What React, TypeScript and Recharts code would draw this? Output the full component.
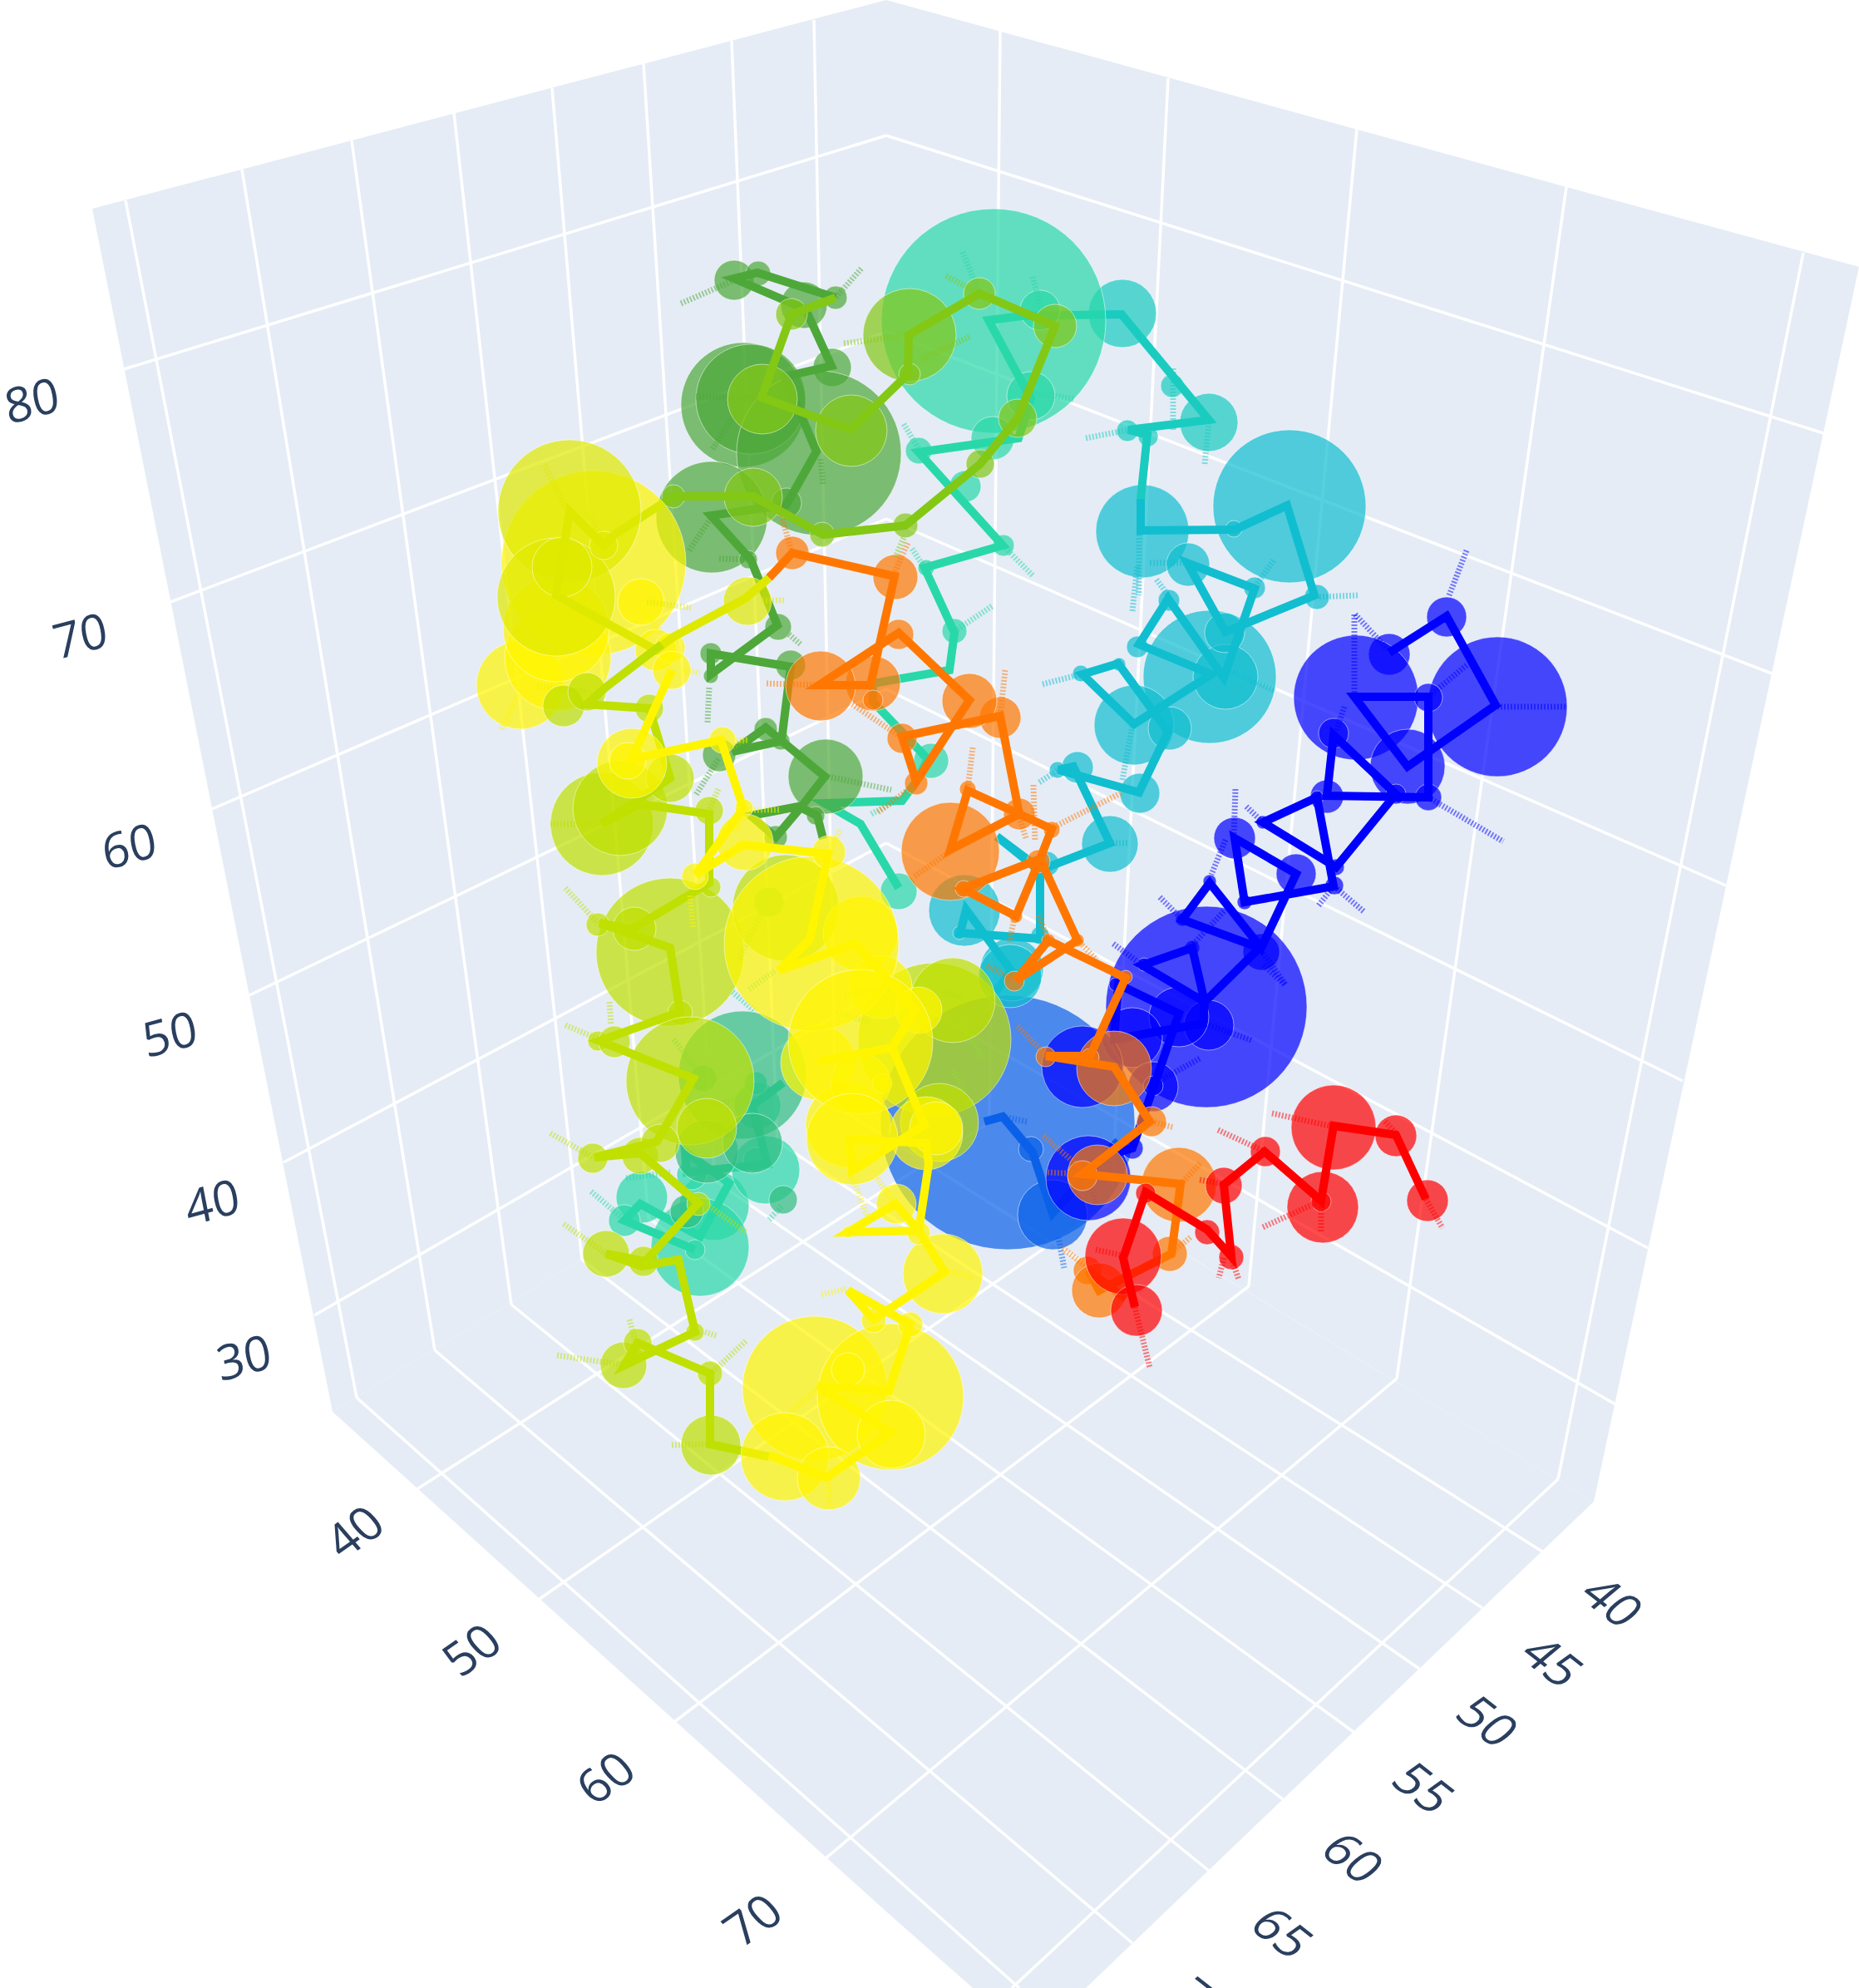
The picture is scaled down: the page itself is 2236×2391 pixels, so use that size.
import React from 'react'
import { ComposedChart, Area, Line, Scatter, XAxis, YAxis } from 'recharts'

const WIDTH = 2236
const HEIGHT = 2391

type Pt = [number, number]
type Bub = [number, number, number]
type Whisk = [number, number, number, number]

// panes: x, upper edge, lower edge
const leftWall: [number, number, number][] = [[111, 251, 251], [400, 175, 1698], [1066, 0, 1290]]
const rightWall: [number, number, number][] = [[1066, 0, 1290], [1917, 234, 1806], [2236, 321, 321]]
const floorPane: [number, number, number][] = [[400, 1698, 1698], [1066, 1290, 2299], [1170, 1353, 2391], [1306, 1436, 2391], [1917, 1806, 1806]]

const gridLines: Whisk[] = [
  // left wall verticals
  [151, 241, 429, 1681], [291, 204, 523, 1624], [423, 169, 615, 1569], [546, 136, 700, 1515],
  [664, 106, 780, 1465], [774, 76, 860, 1420], [880, 49, 935, 1373], [979, 24, 1005, 1330],
  // left wall horizontals
  [149, 444, 1066, 163], [205, 724, 1066, 399], [255, 973, 1066, 624], [300, 1197, 1066, 829], [341, 1398, 1066, 1014], [378, 1582, 1066, 1186],
  // right wall verticals
  [1203, 37, 1190, 1350], [1405, 94, 1337, 1445], [1632, 155, 1502, 1547], [1884, 225, 1680, 1658], [2169, 304, 1874, 1779],
  // right wall horizontals
  [1066, 163, 2193, 521], [1066, 399, 2131, 810], [1066, 624, 2076, 1065], [1066, 829, 2024, 1300], [1066, 1014, 1982, 1501], [1066, 1186, 1943, 1689],
  // floor
  [1005, 1330, 1855, 1866], [935, 1373, 1783, 1934], [860, 1420, 1707, 2007], [780, 1465, 1628, 2083],
  [700, 1515, 1543, 2164], [615, 1569, 1454, 2250], [523, 1624, 1362, 2337], [429, 1681, 1226, 2391],
  [500, 1792, 1190, 1350], [649, 1923, 1337, 1445], [811, 2071, 1502, 1547], [992, 2236, 1680, 1658], [1217, 2391, 1874, 1779],
]

const zTicks: [string, number, number][] = [['80', 38, 480], ['70', 96, 763], ['60', 155, 1016], ['50', 204, 1242], ['40', 255, 1444], ['30', 293, 1631]]
const leftTicks: [string, number, number][] = [['40', 425, 1841], ['50', 566, 1983], ['60', 727, 2137], ['70', 904, 2308]]
const rightTicks: [string, number, number][] = [['40', 1941, 1925], ['45', 1869, 1997], ['50', 1791, 2069], ['55', 1714, 2149], ['60', 1629, 2233], ['65', 1544, 2323], ['70', 1450, 2408]]

const redPath: Pt[] = [[1365, 1572], [1351, 1513], [1378, 1434], [1452, 1479], [1481, 1511], [1472, 1425], [1521, 1385], [1589, 1444], [1604, 1354], [1679, 1365], [1715, 1442]]
const redBubbles: Bub[] = [[1717, 1444, 25], [1679, 1366, 25], [1604, 1356, 51], [1591, 1452, 43], [1589, 1445, 12], [1522, 1385, 18], [1472, 1426, 22], [1481, 1512, 15], [1452, 1482, 15], [1378, 1435, 12], [1351, 1511, 46], [1367, 1576, 31]]
const redWhiskers: Whisk[] = [[1530, 1339, 1599, 1354], [1465, 1359, 1521, 1385], [1519, 1476, 1589, 1444], [1589, 1447, 1589, 1483], [1443, 1419, 1472, 1424], [1715, 1442, 1735, 1477], [1481, 1513, 1490, 1539], [1472, 1513, 1466, 1537], [1318, 1503, 1351, 1510], [1365, 1572, 1383, 1645], [1666, 1349, 1679, 1363]]

const orangePath: Pt[] = [[1354, 1562], [1309, 1528], [1322, 1552], [1409, 1508], [1420, 1424], [1302, 1412], [1383, 1349], [1340, 1283], [1258, 1270], [1311, 1270], [1354, 1176], [1261, 1131], [1222, 1179], [1296, 1131], [1251, 1033], [1222, 1102], [1158, 1069], [1251, 1033], [1265, 997], [1226, 979], [1164, 951], [1143, 1022], [1226, 979], [1203, 861], [1085, 886], [1102, 940], [1166, 842], [1081, 761], [985, 824], [1047, 824], [1076, 693], [953, 665], [925, 695]]
const orangeBubbles: Bub[] = [[1418, 1425, 45], [1407, 1508, 21], [1308, 1528, 17], [1322, 1552, 33], [1385, 1349, 18], [1340, 1285, 45], [1258, 1271, 12], [1311, 1272, 11], [1320, 1413, 36], [1302, 1414, 18], [1354, 1175, 8], [1220, 1180, 12], [1261, 1131, 8], [1296, 1131, 8], [1249, 1036, 14], [1222, 1102, 8], [1143, 1024, 59], [1159, 1069, 10], [1226, 979, 19], [1265, 998, 10], [1164, 949, 10], [1203, 863, 25], [1166, 843, 33], [1085, 888, 18], [1102, 942, 14], [1081, 763, 18], [1050, 822, 33], [1050, 842, 12], [1077, 694, 27], [987, 825, 42], [953, 665, 20]]
const orangeWhiskers: Whisk[] = [[1209, 806, 1203, 861], [1170, 899, 1164, 949], [1348, 954, 1267, 995], [1243, 944, 1245, 1011], [1234, 1008, 1226, 983], [1100, 1054, 1143, 1024], [1056, 977, 1100, 944], [1025, 847, 1083, 886], [1220, 1104, 1214, 1133], [1249, 1101, 1261, 1131], [1296, 1131, 1319, 1154], [1187, 1161, 1220, 1179], [922, 822, 985, 824], [936, 605, 951, 660], [1092, 653, 1074, 693], [1260, 1410, 1300, 1412], [1278, 1501, 1313, 1528], [1385, 1349, 1412, 1356], [1420, 1424, 1445, 1398], [1412, 1505, 1432, 1488], [1224, 1234, 1258, 1270], [1255, 1366, 1302, 1407]]

const bluePath: Pt[] = [[1671, 785], [1740, 741], [1799, 848], [1693, 922], [1629, 838], [1718, 838], [1718, 959], [1596, 957], [1604, 884], [1679, 955], [1607, 1043], [1519, 989], [1584, 959], [1604, 1066], [1497, 1085], [1485, 1008], [1559, 1051], [1517, 1140], [1455, 1062], [1422, 1106], [1515, 1140], [1449, 1205], [1434, 1140], [1374, 1161], [1449, 1205], [1447, 1231], [1340, 1250], [1345, 1184], [1418, 1219], [1380, 1329], [1362, 1381], [1345, 1386]]
const blueBubbles: Bub[] = [[1740, 742, 24], [1671, 787, 25], [1801, 850, 84], [1631, 839, 75], [1718, 839, 17], [1693, 922, 45], [1604, 882, 18], [1596, 958, 20], [1584, 959, 8], [1718, 959, 16], [1679, 955, 12], [1519, 989, 8], [1485, 1008, 25], [1607, 1043, 10], [1605, 1065, 11], [1497, 1085, 9], [1559, 1051, 24], [1455, 1060, 8], [1422, 1106, 8], [1517, 1145, 22], [1434, 1140, 9], [1374, 1161, 6], [1451, 1211, 121], [1454, 1233, 30], [1418, 1223, 36], [1362, 1248, 36], [1342, 1184, 8], [1376, 1160, 8], [1387, 1307, 30], [1387, 1306, 12], [1302, 1283, 49], [1362, 1381, 13], [1309, 1417, 51]]
const blueWhiskers: Whisk[] = [[1764, 662, 1743, 716], [1801, 850, 1884, 850], [1629, 739, 1629, 834], [1630, 739, 1669, 781], [1764, 800, 1723, 834], [1617, 850, 1607, 880], [1486, 949, 1484, 1006], [1499, 970, 1519, 989], [1718, 959, 1808, 1012], [1474, 1010, 1457, 1052], [1586, 1089, 1604, 1066], [1640, 1096, 1607, 1068], [1395, 1079, 1422, 1106], [1472, 1096, 1434, 1137], [1546, 1184, 1519, 1146], [1339, 1135, 1374, 1161], [1505, 1251, 1454, 1233], [1443, 1273, 1387, 1304], [1545, 1184, 1519, 1160], [1327, 1255, 1358, 1251], [1318, 1447, 1309, 1417]]

const azurePath: Pt[] = [[1184, 1349], [1206, 1343], [1242, 1386], [1266, 1459], [1345, 1372]]
const azureBubbles: Bub[] = [[1212, 1350, 153], [1240, 1382, 15], [1266, 1461, 42]]
const azureWhiskers: Whisk[] = [[1273, 1488, 1280, 1525], [1235, 1349, 1206, 1343]]

const cyanPath: Pt[] = [[1372, 600], [1372, 638], [1485, 637], [1548, 608], [1581, 716], [1474, 760], [1428, 677], [1509, 708], [1472, 815], [1405, 720], [1370, 775], [1457, 811], [1364, 871], [1302, 811], [1345, 798], [1405, 880], [1370, 953], [1273, 926], [1291, 922], [1335, 1014], [1250, 1047], [1199, 1006], [1251, 1045], [1251, 1129], [1155, 1122], [1162, 1094], [1216, 1167], [1195, 1197]]
const cyanBubbles: Bub[] = [[1551, 609, 92], [1374, 639, 56], [1484, 636, 10], [1429, 679, 26], [1509, 707, 13], [1584, 718, 15], [1406, 722, 13], [1368, 778, 13], [1455, 814, 80], [1474, 814, 39], [1473, 761, 24], [1364, 872, 48], [1407, 876, 26], [1300, 810, 10], [1346, 799, 8], [1371, 954, 24], [1296, 923, 19], [1272, 926, 10], [1335, 1015, 34], [1259, 1039, 15], [1160, 1095, 43], [1154, 1122, 8], [1251, 1125, 11], [1217, 1166, 38], [1215, 1174, 38]]
const cyanWhiskers: Whisk[] = [[1362, 735, 1368, 681], [1383, 677, 1424, 677], [1633, 716, 1586, 718], [1532, 674, 1509, 706], [1391, 697, 1405, 716], [1254, 823, 1300, 811], [1350, 938, 1362, 873], [1532, 830, 1474, 804], [1250, 941, 1273, 926], [1356, 1014, 1335, 1014], [1370, 643, 1370, 716]]

const aquaPath: Pt[] = [[1230, 380], [1349, 378], [1454, 505], [1357, 517], [1380, 523], [1372, 600]]
const aquaBubbles: Bub[] = [[1350, 377, 41], [1454, 508, 35], [1410, 464, 14], [1356, 518, 13], [1381, 525, 12]]
const aquaWhiskers: Whisk[] = [[1306, 527, 1357, 517], [1411, 517, 1411, 443], [1449, 558, 1454, 507]]

const tealPath: Pt[] = [[1230, 380], [1189, 385], [1240, 480], [1225, 527], [1105, 544], [1206, 656], [1112, 683], [1148, 761], [1142, 806], [1050, 822], [1050, 844], [1116, 913], [1102, 940], [1085, 963], [992, 966], [1035, 991], [1081, 1068]]
const tealLowerPath: Pt[] = [[942, 1302], [905, 1330], [923, 1400], [826, 1410], [824, 1385], [877, 1423], [842, 1487], [770, 1448], [751, 1468], [836, 1503]]
const tealBubbles: Bub[] = [[1195, 386, 135], [1251, 373, 24], [1240, 476, 29], [1194, 527, 26], [1105, 542, 16], [1161, 585, 19], [1207, 656, 13], [1114, 683, 10], [1148, 759, 15], [1120, 915, 21], [1081, 1072, 22], [859, 1450, 42], [842, 1500, 59], [772, 1440, 31], [751, 1468, 19], [836, 1503, 12], [921, 1407, 41], [909, 1395, 15], [832, 1413, 18], [846, 1297, 16], [911, 1330, 28], [909, 1303, 14], [925, 1085, 18]]
const tealWhiskers: Whisk[] = [[1158, 303, 1178, 353], [1242, 333, 1252, 370], [1291, 480, 1235, 470], [1087, 510, 1105, 540], [1242, 692, 1207, 657], [1097, 660, 1112, 683], [1193, 729, 1147, 760], [1048, 979, 1083, 960], [711, 1433, 751, 1467], [810, 1250, 846, 1297], [853, 1332, 885, 1322], [925, 1467, 941, 1450], [826, 1333, 834, 1373], [753, 1417, 806, 1410], [881, 1193, 909, 1217], [889, 1153, 921, 1087], [901, 1190, 933, 1167], [1006, 1217, 1045, 1230], [1016, 1197, 1071, 1188], [1055, 1337, 1061, 1303], [1154, 1223, 1182, 1273], [1146, 1287, 1166, 1328], [1134, 1192, 1158, 1200], [1004, 1278, 1031, 1275], [1095, 1387, 1124, 1357]]

const seaBubbles: Bub[] = [[893, 1293, 77], [942, 1443, 17], [826, 1457, 20], [850, 1385, 38], [905, 1375, 36]]

const greenPath: Pt[] = [[1005, 358], [911, 328], [883, 335], [969, 372], [1000, 440], [944, 453], [982, 543], [946, 607], [855, 620], [903, 673], [935, 752], [855, 811], [855, 786], [951, 802], [940, 891], [921, 875], [881, 904], [940, 891], [992, 934], [964, 970], [933, 1007], [903, 981], [960, 970], [983, 981], [990, 1009]]
const greenBubbles: Bub[] = [[883, 337, 24], [912, 329, 15], [967, 367, 28], [1005, 358, 14], [1001, 442, 23], [894, 487, 75], [903, 480, 66], [985, 545, 99], [946, 605, 18], [856, 622, 67], [900, 673, 11], [936, 754, 16], [855, 786, 13], [855, 813, 9], [951, 800, 18], [993, 934, 45], [921, 877, 14], [865, 908, 20], [939, 891, 11], [933, 1007, 14], [981, 981, 11]]
const greenWhiskers: Whisk[] = [[819, 365, 883, 337], [1036, 323, 1005, 358], [837, 477, 913, 478], [857, 540, 900, 473], [987, 552, 990, 583], [829, 662, 855, 623], [865, 672, 903, 673], [853, 827, 851, 870], [949, 763, 963, 775], [864, 913, 837, 956], [996, 934, 1072, 950], [646, 825, 706, 832]]

const limePath: Pt[] = [[1005, 358], [952, 378], [916, 478], [1023, 517], [1092, 450], [1093, 403], [1178, 353], [1269, 392], [1224, 503], [1179, 558], [1089, 632], [990, 643], [906, 597], [810, 597], [739, 643]]
const limeBubbles: Bub[] = [[952, 378, 19], [917, 480, 42], [1024, 518, 43], [1094, 403, 56], [1094, 450, 13], [1178, 353, 19], [1269, 392, 26], [1224, 503, 23], [1179, 558, 17], [1089, 632, 15], [989, 643, 15], [906, 598, 35], [810, 597, 14]]
const limeWhiskers: Whisk[] = [[1015, 413, 1092, 403], [1166, 405, 1107, 433], [1138, 332, 1178, 353], [1087, 647, 1077, 670], [881, 899, 899, 888]]

const paleBubbles: Bub[] = [[714, 677, 111], [771, 724, 28], [626, 824, 53], [671, 791, 64], [669, 756, 64], [789, 782, 25], [806, 779, 18], [808, 806, 23]]
const paleWhiskers: Whisk[] = [[603, 877, 624, 834], [821, 806, 842, 809], [770, 727, 796, 763]]

const citronPath: Pt[] = [[739, 643], [726, 656], [685, 615], [669, 716], [789, 782], [810, 766], [896, 720], [925, 695]]
const citronBubbles: Bub[] = [[685, 615, 86], [669, 718, 71], [726, 656, 17], [676, 682, 36], [899, 723, 29]]
const citronWhiskers: Whisk[] = [[778, 724, 831, 731], [706, 616, 728, 656], [655, 559, 681, 613], [917, 722, 944, 722]]

const grassPath: Pt[] = [[796, 775], [728, 827], [706, 847], [781, 852], [806, 936], [724, 991], [770, 967], [853, 979], [853, 1062], [759, 1118], [721, 1110], [806, 1140], [818, 1217], [721, 1252], [834, 1297], [790, 1373], [715, 1392], [770, 1387], [840, 1447], [776, 1517], [729, 1508], [772, 1523], [816, 1515], [836, 1602], [751, 1642], [767, 1615], [854, 1652], [854, 1737], [925, 1752]]
const grassBubbles: Bub[] = [[806, 1145, 89], [763, 1117, 26], [719, 1112, 14], [855, 1067, 12], [818, 1218, 15], [719, 1252, 12], [739, 1253, 19], [830, 1300, 77], [713, 1393, 18], [770, 1390, 22], [794, 1375, 23], [729, 1508, 28], [774, 1517, 18], [840, 1448, 14], [850, 1357, 36], [724, 991, 62], [746, 972, 57], [806, 936, 29], [853, 975, 17], [781, 852, 17], [678, 849, 25], [706, 832, 23], [750, 1642, 28], [767, 1615, 17], [836, 1602, 11], [854, 1652, 15], [855, 1738, 36], [945, 1092, 64], [1124, 1250, 92], [1146, 1203, 51], [1130, 1350, 47]]
const grassWhiskers: Whisk[] = [[808, 1738, 854, 1737], [670, 1630, 751, 1642], [897, 1613, 855, 1652], [757, 1587, 765, 1615], [848, 1602, 863, 1607], [678, 1472, 729, 1508], [897, 1482, 842, 1443], [662, 1363, 713, 1392], [680, 1233, 721, 1250], [680, 1068, 719, 1110], [733, 1205, 735, 1233], [662, 991, 722, 991], [864, 949, 853, 974]]

const yellowPath: Pt[] = [[808, 806], [760, 913], [867, 890], [894, 972], [837, 1052], [894, 1016], [996, 1027], [974, 1130], [937, 1167], [1029, 1135], [1101, 1215], [1073, 1260], [984, 1277], [1073, 1260], [1112, 1353], [1025, 1408], [1022, 1370], [1114, 1375], [1117, 1400], [1105, 1480], [1020, 1482], [1077, 1448], [1105, 1480], [1136, 1530], [1051, 1587], [1020, 1552], [1095, 1593], [1069, 1673], [984, 1667], [1071, 1723], [994, 1777], [925, 1750]]
const yellowBubbles: Bub[] = [[980, 1670, 87], [1071, 1680, 88], [1020, 1647, 20], [1072, 1725, 41], [944, 1752, 53], [997, 1778, 38], [1134, 1532, 48], [1051, 1588, 15], [1095, 1593, 15], [1020, 1482, 7], [1078, 1448, 24], [1105, 1483, 14], [984, 1278, 45], [1020, 1353, 51], [1035, 1303, 36], [1035, 1123, 45], [1059, 1187, 38], [1105, 1215, 28], [1114, 1363, 44], [1126, 1357, 32], [1061, 1303, 12], [976, 1135, 105], [1035, 1253, 87], [1025, 1370, 55], [760, 918, 42], [755, 915, 22], [869, 890, 16], [895, 972, 11], [896, 1013, 34], [997, 1025, 20], [836, 1054, 16]]
const yellowWhiskers: Whisk[] = [[988, 1557, 1018, 1550], [1134, 1527, 1170, 1537], [998, 1810, 996, 1778], [952, 1697, 988, 1667], [1025, 1415, 1043, 1463], [1055, 1417, 1077, 1450], [830, 1077, 834, 1117], [885, 891, 899, 890], [1010, 999, 997, 1025], [885, 999, 896, 977], [899, 974, 939, 974]]

const traces: { color: string; paths: Pt[][]; bubbles: Bub[]; whiskers: Whisk[] }[] = [
  { color: '#0a60e8', paths: [azurePath], bubbles: azureBubbles, whiskers: azureWhiskers },
  { color: '#0000ff', paths: [bluePath], bubbles: blueBubbles, whiskers: blueWhiskers },
  { color: '#10bed0', paths: [cyanPath], bubbles: cyanBubbles, whiskers: cyanWhiskers },
  { color: '#1accc0', paths: [aquaPath], bubbles: aquaBubbles, whiskers: aquaWhiskers },
  { color: '#29d8a8', paths: [tealPath, tealLowerPath], bubbles: tealBubbles, whiskers: tealWhiskers },
  { color: '#30bd80', paths: [], bubbles: seaBubbles, whiskers: [] },
  { color: '#4da839', paths: [greenPath], bubbles: greenBubbles, whiskers: greenWhiskers },
  { color: '#ff7700', paths: [orangePath], bubbles: orangeBubbles, whiskers: orangeWhiskers },
  { color: '#83c815', paths: [limePath], bubbles: limeBubbles, whiskers: limeWhiskers },
  { color: '#fff500', paths: [], bubbles: paleBubbles, whiskers: paleWhiskers },
  { color: '#dfe900', paths: [citronPath], bubbles: citronBubbles, whiskers: citronWhiskers },
  { color: '#bfe000', paths: [grassPath], bubbles: grassBubbles, whiskers: grassWhiskers },
  { color: '#fff500', paths: [yellowPath], bubbles: yellowBubbles, whiskers: yellowWhiskers },
  { color: '#ff0000', paths: [redPath], bubbles: redBubbles, whiskers: redWhiskers },
]

const toBand = (rows: [number, number, number][]) => rows.map(([x, a, b]) => ({ x, band: [a, b] }))
const NoMark = () => <g />

const makeBubble = (color: string) => (props: any) => (
  <circle
    cx={props.cx}
    cy={props.cy}
    r={props.payload.z}
    fill={color}
    fillOpacity={0.7}
    stroke="#ffffff"
    strokeOpacity={0.5}
    strokeWidth={1}
  />
)

const makeTick = (transform: string) => (props: any) => (
  <text
    transform={`translate(${props.cx} ${props.cy}) ${transform}`}
    textAnchor="middle"
    dominantBaseline="central"
    fontFamily="'Open Sans', sans-serif"
    fontSize={58}
    fill="#2a3f5f"
  >
    {props.payload.label}
  </text>
)

const tickSeries = (rows: [string, number, number][]) => rows.map(([label, x, y]) => ({ label, x, y }))

export default function App() {
  return (
    <div style={{ position: 'absolute', left: 0, top: 0, width: WIDTH, height: HEIGHT, overflow: 'hidden', background: '#fff' }}>
      <ComposedChart width={WIDTH} height={HEIGHT} margin={{ top: 0, right: 0, bottom: 0, left: 0 }}>
        <XAxis type="number" dataKey="x" domain={[0, WIDTH]} allowDataOverflow hide />
        <YAxis type="number" domain={[0, HEIGHT]} allowDataOverflow reversed hide />
        {[leftWall, rightWall, floorPane].map((pane, i) => (
          <Area key={i} data={toBand(pane)} dataKey="band" type="linear" stroke="none" fill="#e5ecf6" fillOpacity={1} isAnimationActive={false} dot={false} activeDot={false} />
        ))}
        {gridLines.map(([x1, y1, x2, y2], i) => (
          <Line key={i} data={[{ x: x1, y: y1 }, { x: x2, y: y2 }]} dataKey="y" stroke="#ffffff" strokeWidth={3.5} dot={false} activeDot={false} isAnimationActive={false} />
        ))}
        {traces.map((t, i) => (
          <React.Fragment key={i}>
            {t.bubbles.length > 0 && (
              <Scatter data={t.bubbles.map(([x, y, z]) => ({ x, y, z }))} dataKey="y" shape={makeBubble(t.color)} isAnimationActive={false} />
            )}
            {t.paths.map((p, j) => (
              <Scatter key={j} data={p.map(([x, y]) => ({ x, y }))} dataKey="y" shape={NoMark} line={{ stroke: t.color, strokeWidth: 10 }} isAnimationActive={false} />
            ))}
            {t.whiskers.map(([x1, y1, x2, y2], j) => (
              <Scatter key={`w${j}`} data={[{ x: x1, y: y1 }, { x: x2, y: y2 }]} dataKey="y" shape={NoMark} line={{ stroke: t.color, strokeWidth: 7, strokeOpacity: 0.5, strokeDasharray: '2 2' }} isAnimationActive={false} />
            ))}
          </React.Fragment>
        ))}
        <Scatter data={tickSeries(zTicks)} dataKey="y" shape={makeTick('rotate(-15) skewX(-4)')} isAnimationActive={false} />
        <Scatter data={tickSeries(leftTicks)} dataKey="y" shape={makeTick('rotate(-35) skewX(6)')} isAnimationActive={false} />
        <Scatter data={tickSeries(rightTicks)} dataKey="y" shape={makeTick('rotate(38) skewX(-12)')} isAnimationActive={false} />
      </ComposedChart>
    </div>
  )
}
